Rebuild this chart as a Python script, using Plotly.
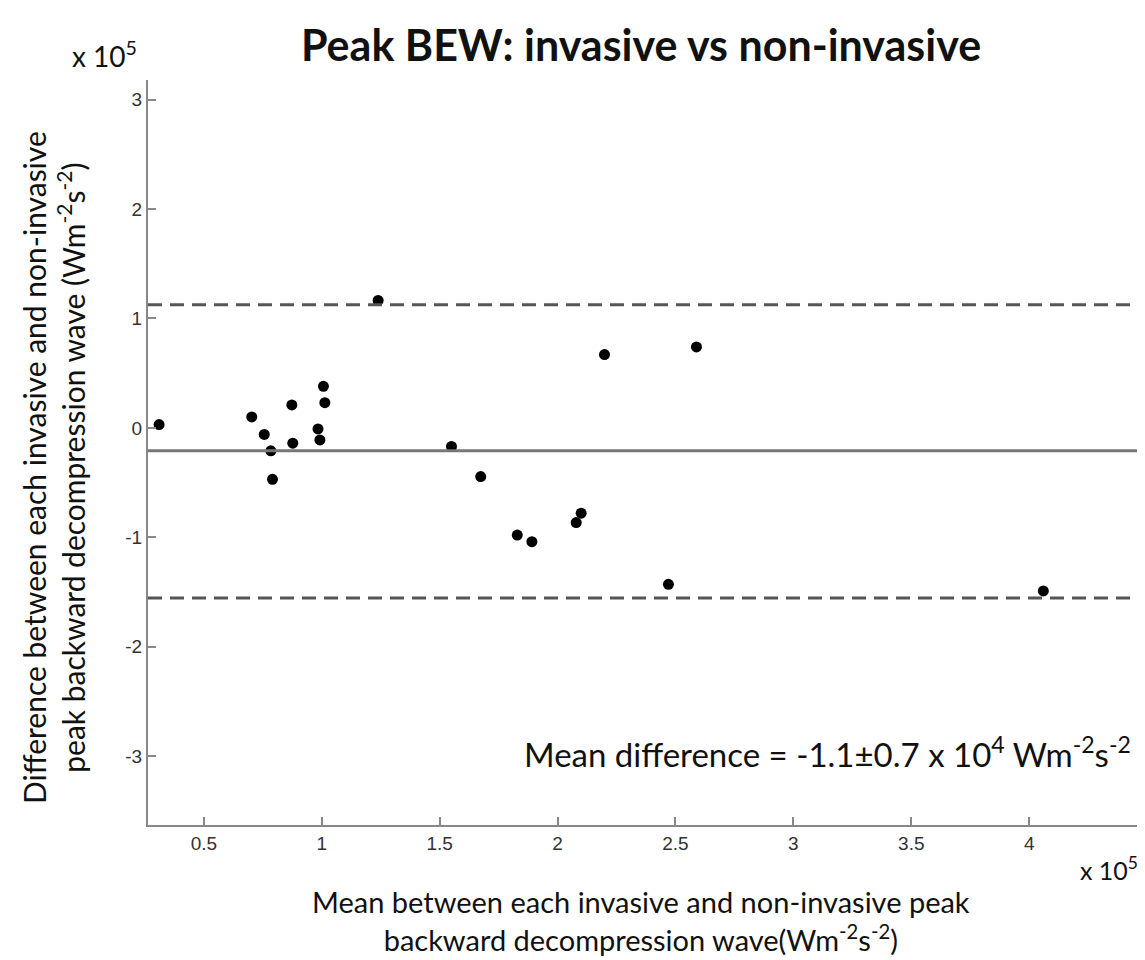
import plotly.graph_objects as go

# Data (x 10^5)
mean_vals = [0.31, 0.703, 0.756, 0.784, 0.791, 0.873, 0.877, 1.007, 1.013, 0.984, 0.992,
             1.239, 1.55, 1.674, 1.829, 1.891, 2.079, 2.10, 2.199, 2.589, 2.47, 4.06]
diff_vals = [0.03, 0.10, -0.06, -0.21, -0.47, 0.21, -0.14, 0.38, 0.23, -0.01, -0.11,
             1.165, -0.17, -0.445, -0.98, -1.04, -0.866, -0.78, 0.67, 0.74, -1.43, -1.49]
mean_diff = -0.21
upper_loa = 1.125
lower_loa = -1.555
x_ticks = [0.5, 1, 1.5, 2, 2.5, 3, 3.5, 4]
y_ticks = [-3, -2, -1, 0, 1, 2, 3]
x_range = [0.263, 4.47]
y_range = [-3.63, 3.18]

font_txt = "Lato, 'Open Sans', sans-serif"
font_tick = "'Liberation Sans Narrow', 'Liberation Sans', Arial, sans-serif"

W, H = 1137, 952
L, R, T, B = 140, 5, 72, 135
PW, PH = W - L - R, H - T - B


def px(X):  # reference screen pixel -> paper x
    return (X - 8 - L) / PW


def py(Y):  # reference screen pixel -> paper y
    return 1 - (Y - 8 - T) / PH


fig = go.Figure()
fig.add_trace(go.Scatter(x=mean_vals, y=diff_vals, mode="markers",
                         marker=dict(color="black", size=11), showlegend=False))

for yv, dash, col in [(upper_loa, "14px,8px", "#555555"), (lower_loa, "14px,8px", "#555555"),
                      (mean_diff, "solid", "#777777")]:
    fig.add_shape(type="line", xref="paper", yref="y", x0=0, x1=1, y0=yv, y1=yv,
                  line=dict(color=col, width=3, dash=dash))

fig.update_layout(
    width=W, height=H,
    paper_bgcolor="white", plot_bgcolor="white",
    margin=dict(l=L, r=R, t=T, b=B),
    xaxis=dict(range=x_range, tickvals=x_ticks, ticktext=[str(v) for v in x_ticks],
               showgrid=False, zeroline=False, showline=True, linecolor="#888888", linewidth=2,
               ticks="inside", ticklen=8, tickcolor="#888888", tickwidth=1.5,
               tickfont=dict(family=font_tick, size=19, color="#333333")),
    yaxis=dict(range=y_range, tickvals=y_ticks, ticktext=[str(v) for v in y_ticks],
               showgrid=False, zeroline=False, showline=True, linecolor="#888888", linewidth=2,
               ticks="inside", ticklen=8, tickcolor="#888888", tickwidth=1.5,
               tickfont=dict(family=font_tick, size=19, color="#333333")),
)

annos = [
    dict(text="<b>Peak BEW: invasive vs non-invasive</b>", X=641, Y=45, xa="center", size=43),
    dict(text="x 10<sup>5</sup>", X=104, Y=55, xa="center", size=28),
    dict(text="x 10<sup>5</sup>", X=1140, Y=868, xa="right", size=25),
    dict(text="Mean between each invasive and non-invasive peak<br>backward decompression wave(Wm<sup>-2</sup>s<sup>-2</sup>)",
         X=641, Y=921, xa="center", size=29),
    dict(text="Mean difference = -1.1±0.7 x 10<sup>4</sup> Wm<sup>-2</sup>s<sup>-2</sup>",
         X=1133, Y=752, xa="right", size=33),
]
for a in annos:
    fig.add_annotation(text=a["text"], xref="paper", yref="paper",
                       x=px(a["X"]), y=py(a["Y"]),
                       xanchor=a["xa"], yanchor="middle", showarrow=False,
                       font=dict(family=font_txt, size=a["size"], color="#111111"))

fig.add_annotation(text="Difference between each invasive and non-invasive<br>peak backward decompression wave (Wm<sup>-2</sup>s<sup>-2</sup>)",
                   xref="paper", yref="paper", x=px(54), y=py(468),
                   xanchor="center", yanchor="middle", textangle=-90, showarrow=False,
                   font=dict(family=font_txt, size=30, color="#111111"))

fig.write_html("out.html")
